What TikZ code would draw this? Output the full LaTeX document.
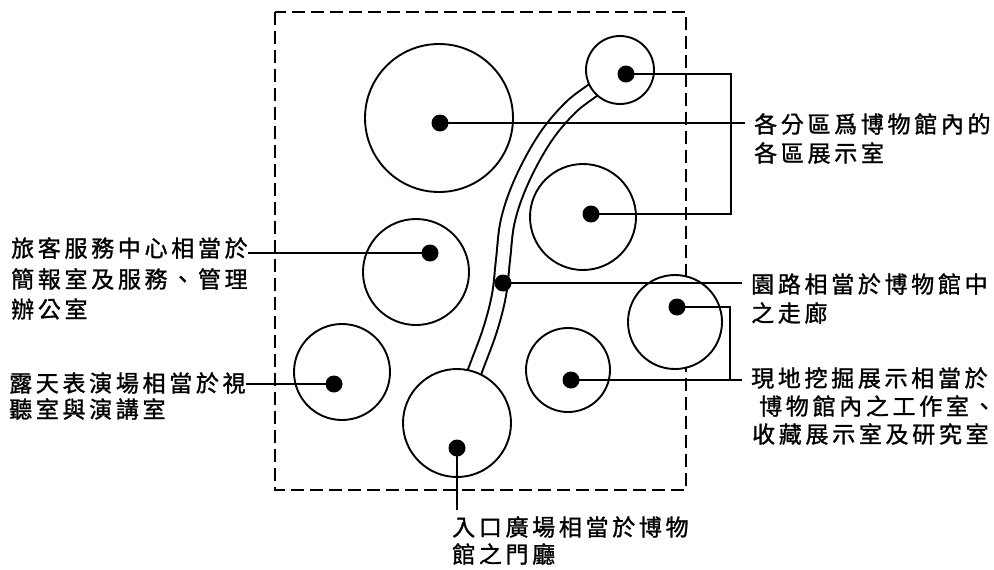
\documentclass[tikz,border=0pt]{standalone}
\usepackage{fontspec}
\newfontfamily\cjk[LetterSpace=16,FakeBold=1.2]{Noto Sans CJK TC}
\begin{document}
\begin{tikzpicture}[x=1pt,y=-1pt,
  ring/.style={circle, draw, line width=1.9pt, fill=white, minimum size=#1, inner sep=0pt},
  blob/.style={circle, fill=black, minimum size=17pt, inner sep=0pt},
  lbl/.style={anchor=west, inner sep=0pt, font=\cjk\fontsize{23}{27}\selectfont},
  link/.style={line width=1.4pt},
  road/.style={line width=2pt, double=white, double distance=12pt},
  frame/.style={line width=1.6pt, dash pattern=on 13pt off 6pt}]
\useasboundingbox (0,0) rectangle (994,570);
% dashed site boundary
\draw[frame] (275,12) rectangle (686,490);
% road
\draw[road] plot[smooth, tension=0.6] coordinates {(466,395) (476,368) (490,330) (499,295) (503,260) (508,220) (522,180) (545,138) (570,108) (593,90) (606,80)};
% circles
\node[ring=148pt] (cBig) at (439,118) {};
\node[ring=68pt] (cTop) at (620,70) {};
\node[ring=106pt] (cMidR) at (583,217) {};
\node[ring=106pt] (cA) at (416,272) {};
\node[ring=94pt] (cRight) at (675,322) {};
\node[ring=84pt] (cDig) at (568,370) {};
\node[ring=96pt] (cB) at (342,372) {};
\node[ring=108pt] (cGate) at (457,423) {};
% dot positions
\coordinate (pBig) at (440,123);
\coordinate (pTop) at (626,74);
\coordinate (pMidR) at (591,214);
\coordinate (pA) at (430,253);
\coordinate (pRoad) at (503,283);
\coordinate (pRight) at (677,307);
\coordinate (pDig) at (571,380);
\coordinate (pB) at (334,384);
\coordinate (pGate) at (457,448);
% labels
\node[lbl] (t1a) at (11,248) {旅客服務中心相當於};
\node[lbl] (t1b) at (11,279) {簡報室及服務、管理};
\node[lbl] (t1c) at (11,309) {辦公室};
\node[lbl] (t2a) at (9,383) {露天表演場相當於視};
\node[lbl] (t2b) at (9,409) {聽室與演講室};
\node[lbl] (t5a) at (754,124) {各分區爲博物館內的};
\node[lbl] (t5b) at (754,153) {各區展示室};
\node[lbl] (t6a) at (751,284) {園路相當於博物館中};
\node[lbl] (t6b) at (751,313) {之走廊};
\node[lbl] (t7a) at (751,378) {現地挖掘展示相當於};
\node[lbl] (t7b) at (759,406) {博物館內之工作室、};
\node[lbl] (t7c) at (752,434) {收藏展示室及研究室};
\node[lbl] (t8a) at (452,527) {入口廣場相當於博物};
\node[lbl] (t8b) at (452,554) {館之門廳};
% brackets / connectors
\coordinate (brA) at (731,74);
\coordinate (brB) at (730,380);
\draw[link] (pTop) -- (brA) |- (pMidR);
\draw[link] (pRight) -| (brB);
\draw[link] (pBig) -- ([xshift=-9pt]t5a.west |- pBig);
\draw[link] (pRoad) -- ([xshift=-9pt]t6a.west |- pRoad);
\draw[link] (pDig) -- ([xshift=-9pt]t7a.west |- pDig);
\draw[link] (t1a.east |- pA) -- (pA);
\draw[link] (t2a.east |- pB) -- (pB);
\draw[link] (pGate) -- ([yshift=6pt]t8a.north -| pGate);
% dots
\foreach \p in {pBig,pTop,pMidR,pA,pRoad,pRight,pDig,pB,pGate}
  \node[blob] at (\p) {};
\end{tikzpicture}
\end{document}
